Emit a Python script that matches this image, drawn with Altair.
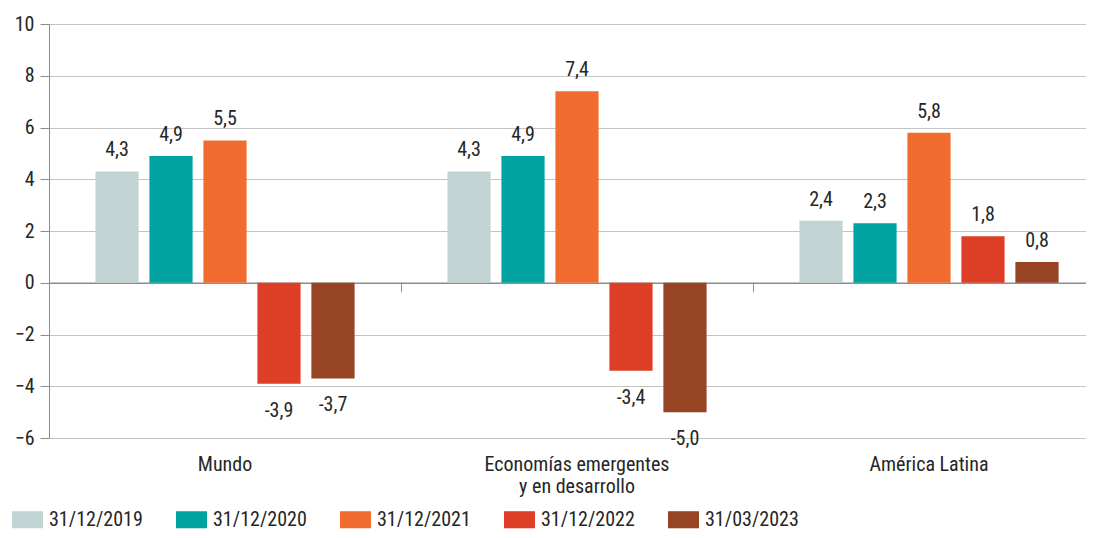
import altair as alt
import pandas as pd

categories = ["Mundo", "Economías emergentes|y en desarrollo", "América Latina"]
series = ["31/12/2019", "31/12/2020", "31/12/2021", "31/12/2022", "31/03/2023"]
colors = ["#c1d3d2", "#00a3a1", "#f26c30", "#dc3f26", "#974424"]

mundo = [4.3, 4.9, 5.5, -3.9, -3.7]
emergentes = [4.3, 4.9, 7.4, -3.4, -5.0]
latam = [2.4, 2.3, 5.8, 1.8, 0.8]

y_ticks = [-6, -4, -2, 0, 2, 4, 6, 8, 10]

rows = []
for cat, vals in zip(categories, [mundo, emergentes, latam]):
    for s, v in zip(series, vals):
        rows.append({"cat": cat, "serie": s, "valor": v,
                     "etiqueta": f"{v:.1f}".replace(".", ",")})
df = pd.DataFrame(rows)

FONT = "Liberation Sans Narrow, Roboto Condensed, DejaVu Sans Condensed, Arial Narrow, sans-serif"
TXT = "#262626"
W, H = 1056, 414

x_scale = alt.Scale(domain=categories, paddingInner=0, paddingOuter=0)
xo_scale = alt.Scale(domain=series, paddingInner=0.2, paddingOuter=0.86)
y_scale = alt.Scale(domain=[-6, 10], nice=False, zero=False)

base = alt.Chart(df)

bars = base.mark_bar().encode(
    x=alt.X("cat:N", scale=x_scale, sort=categories, title=None,
            axis=alt.Axis(orient="bottom", labelExpr="split(datum.value, '|')",
                          labelAngle=0, labelLimit=400,
                          labelFont=FONT, labelFontSize=20, labelColor=TXT,
                          labelPadding=16, labelLineHeight=22,
                          ticks=False, domain=False, grid=False)),
    xOffset=alt.XOffset("serie:N", scale=xo_scale, sort=series),
    y=alt.Y("valor:Q", scale=y_scale, title=None,
            axis=alt.Axis(values=y_ticks, labelFont=FONT, labelFontSize=20,
                          labelColor=TXT, labelPadding=6, tickSize=9,
                          tickColor="#8c8c8c", domainColor="#8c8c8c",
                          gridColor="#c4c4c4", gridWidth=1.2)),
    color=alt.Color("serie:N", scale=alt.Scale(domain=series, range=colors),
                    sort=series, title=None,
                    legend=alt.Legend(orient="none", legendX=-37, legendY=480,
                                      direction="horizontal", columns=5,
                                      symbolType="M-1,-0.55H1V0.55H-1Z",
                                      symbolSize=961, symbolStrokeWidth=0,
                                      labelFont=FONT, labelFontSize=20,
                                      labelColor=TXT, labelOffset=6,
                                      columnPadding=33)),
)

pos_text = base.transform_filter("datum.valor >= 0").mark_text(
    font=FONT, fontSize=20, color=TXT, baseline="alphabetic", dy=-15
).encode(
    x=alt.X("cat:N", scale=x_scale, sort=categories, axis=None),
    xOffset=alt.XOffset("serie:N", scale=xo_scale, sort=series),
    y=alt.Y("valor:Q", scale=y_scale),
    text="etiqueta:N",
)

neg_text = base.transform_filter("datum.valor < 0").mark_text(
    font=FONT, fontSize=20, color=TXT, baseline="alphabetic", dy=33
).encode(
    x=alt.X("cat:N", scale=x_scale, sort=categories, title=None,
            axis=alt.Axis(orient="bottom", offset=-(H * 6 / 16), labels=False,
                          grid=False, ticks=True, bandPosition=0, tickSize=9,
                          tickColor="#8c8c8c", domainColor="#8c8c8c",
                          domainWidth=1.3)),
    xOffset=alt.XOffset("serie:N", scale=xo_scale, sort=series),
    y=alt.Y("valor:Q", scale=y_scale),
    text="etiqueta:N",
)

chart = alt.layer(bars, pos_text, neg_text).resolve_axis(x="independent").properties(
    width=W, height=H,
    autosize=alt.AutoSizeParams(type="none"),
    padding={"left": 41, "top": 16, "right": -19, "bottom": 92},
).configure_view(stroke=None).configure(background="white")

chart.save("out.html", embed_options={"renderer": "svg", "actions": False})
